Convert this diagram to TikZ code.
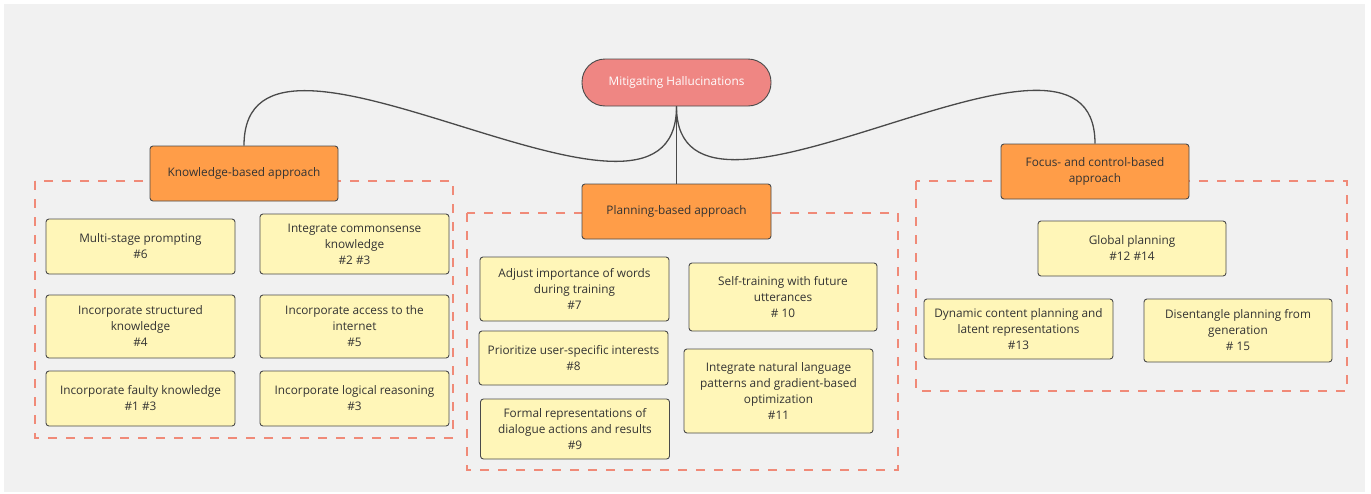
\documentclass[tikz,border=0pt]{standalone}
\usepackage{fontspec}
\setmainfont{Open Sans}
\definecolor{bggray}{HTML}{F1F1F1}
\definecolor{rootred}{HTML}{EF8683}
\definecolor{branchorange}{HTML}{FF9D48}
\definecolor{leafyellow}{HTML}{FFF6B8}
\definecolor{edgegray}{HTML}{4A4A4A}
\definecolor{textgray}{HTML}{333333}
\definecolor{dashred}{HTML}{F08A78}
\tikzset{
	box/.style={draw=edgegray, line width=0.9pt, rounded corners=3pt, inner sep=0pt, align=center, text=textgray, font=\fontsize{11.8}{16}\selectfont},
	leaf/.style={box, fill=leafyellow, minimum width=189pt},
	branch/.style={box, fill=branchorange, minimum width=188pt, minimum height=55pt},
	rootpill/.style={box, fill=rootred, text=white, rounded corners=23pt, minimum width=189pt, minimum height=47pt},
	group/.style={draw=dashred, line width=2.2pt, dash pattern=on 9pt off 9pt},
	link/.style={draw=edgegray, line width=1.3pt}
}

\begin{document}
\begin{tikzpicture}[x=1pt,y=-1pt]
					\useasboundingbox (0,0) rectangle (1371,493);
					\fill[bggray] (4,4) rectangle (1365,492);
					
					\draw[group] (35,181) rectangle (453,438);
					\draw[group] (467,213) rectangle (898,470);
					\draw[group] (916,181) rectangle (1347,391);
					
					\node[rootpill] (root) at (676.5,82.5) {Mitigating Hallucinations};
					\node[branch] (know) at (244,173.5) {Knowledge-based approach};
					\node[branch, minimum width=189pt] (plan) at (676.5,211.5) {Planning-based approach};
					\node[branch] (focus) at (1095,171.5) {Focus- and control-based\\approach};
					
					\node[leaf, minimum height=55pt] (multi) at (140.5,246.5) {Multi-stage prompting\\\#6};
					\node[leaf, minimum height=60pt] (common) at (354.5,244) {Integrate commonsense\\knowledge\\\#2 \#3};
					\node[leaf, minimum height=63pt] (struct) at (140.5,326.5) {Incorporate structured\\knowledge\\\#4};
					\node[leaf, minimum height=63pt] (access) at (354.5,326.5) {Incorporate access to the\\internet\\\#5};
					\node[leaf, minimum height=55pt] (faulty) at (140.5,398.5) {Incorporate faulty knowledge\\\#1 \#3};
					\node[leaf, minimum height=55pt] (logic) at (354.5,398.5) {Incorporate logical reasoning\\\#3};
					
					\node[leaf, minimum height=64pt] (adjust) at (574.5,289) {Adjust importance of words\\during training\\\#7};
					\node[leaf, minimum height=54pt] (prior) at (573.5,358) {Prioritize user-specific interests\\\#8};
					\node[leaf, minimum height=60pt] (formal) at (575,429) {Formal representations of\\dialogue actions and results\\\#9};
					\node[leaf, minimum width=188pt, minimum height=68pt] (selftrain) at (783,297) {Self-training with future\\utterances\\\# 10};
					\node[leaf, minimum height=84pt] (natural) at (778.5,391) {Integrate natural language\\patterns and gradient-based\\optimization\\\#11};
					
					\node[leaf, minimum width=188pt, minimum height=55pt] (global) at (1132,248.5) {Global planning\\\#12 \#14};
					\node[leaf, minimum height=60pt] (dynamic) at (1018.5,329) {Dynamic content planning and\\latent representations\\\#13};
					\node[leaf, minimum width=188pt, minimum height=63pt] (disent) at (1238,330.5) {Disentangle planning from\\generation\\\# 15};
					
					\draw[link] (root.south) .. controls +(0,173) and +(0,-173) .. (know.north);
					\draw[link] (root.south) .. controls +(0,168) and +(0,-168) .. (focus.north);
					\draw[link] (root.south) -- (plan.north);
				\end{tikzpicture}
\end{document}
